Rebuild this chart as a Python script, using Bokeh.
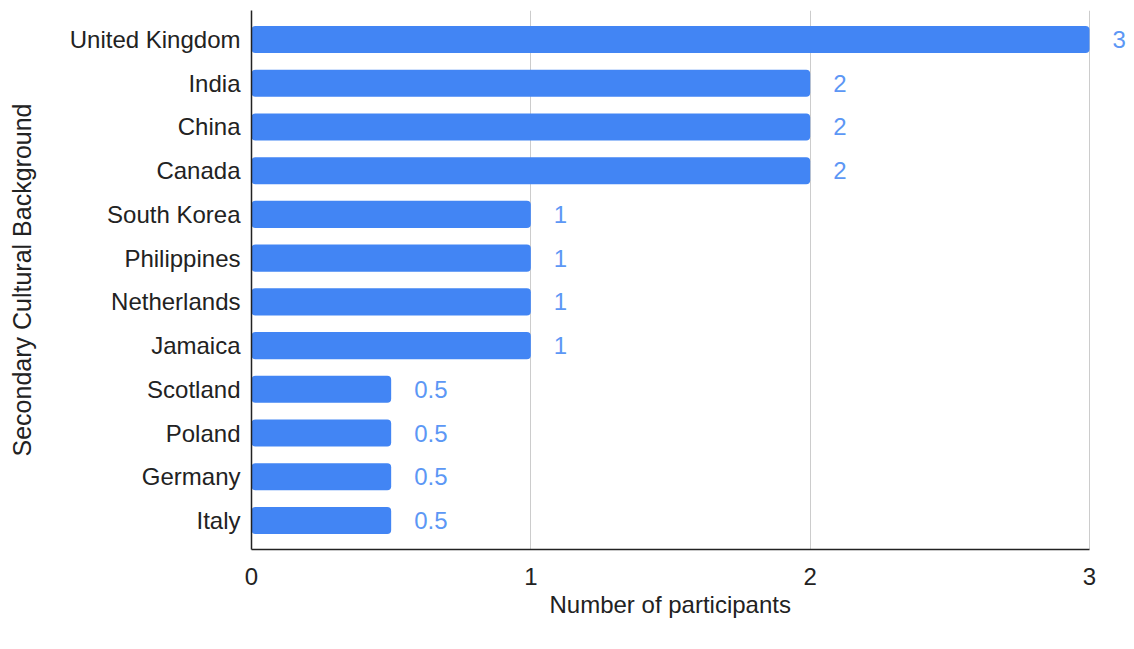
from bokeh.plotting import figure
from bokeh.models import ColumnDataSource, FactorRange, Range1d, FixedTicker, Title, LinearAxis
from bokeh.core.properties import value
from bokeh.embed import file_html
from bokeh.resources import INLINE

countries = ["United Kingdom", "India", "China", "Canada", "South Korea", "Philippines",
             "Netherlands", "Jamaica", "Scotland", "Poland", "Germany", "Italy"]
participants = [3, 2, 2, 2, 1, 1, 1, 1, 0.5, 0.5, 0.5, 0.5]
value_labels = ["3", "2", "2", "2", "1", "1", "1", "1", "0.5", "0.5", "0.5", "0.5"]
x_ticks = [0, 1, 2, 3]

FONT = "Liberation Sans"
FS = "24px"

src = ColumnDataSource(dict(country=countries, n=participants, lbl=value_labels))

# frame spans 251..1134 px; axis data 0..3 maps to 251..1089
x_end = 3 * (1134 - 251) / (1089 - 251)

p = figure(width=1134, height=649, output_backend="svg", toolbar_location=None,
           y_range=FactorRange(factors=list(reversed(countries)), range_padding=0.0274),
           x_range=Range1d(0, x_end),
           min_border_left=251, min_border_right=0, min_border_top=10, min_border_bottom=100)

p.hbar(y="country", right="n", left=0, height=0.62, source=src,
       fill_color="#4285F4", line_color=None, border_radius=4)
p.text(x="n", y="country", text="lbl", source=src, x_offset=23,
       text_align="left", text_baseline="middle", text_color="#5c97f5",
       text_font=value(FONT), text_font_size=FS)

p.outline_line_color = None
p.background_fill_color = "white"
p.border_fill_color = "white"
p.ygrid.grid_line_color = None
p.xgrid.grid_line_color = "#cccccc"
p.xgrid.grid_line_width = 1
p.xgrid.bounds = (0, 3)

xax = p.xaxis[0]
yax = p.yaxis[0]
xax.ticker = FixedTicker(ticks=x_ticks)
xax.bounds = (0, 3)

for ax in (xax, yax):
    ax.axis_line_color = "#222222"
    ax.axis_line_width = 1.5
    ax.major_tick_line_color = None
    ax.minor_tick_line_color = None
    ax.major_label_text_font = FONT
    ax.major_label_text_font_size = FS
    ax.major_label_text_color = "#222222"
    ax.axis_label_text_font = FONT
    ax.axis_label_text_font_size = FS
    ax.axis_label_text_font_style = "normal"
    ax.axis_label_text_color = "#222222"

yax.axis_label_text_font_size = "25px"
yax.axis_label = "Secondary Cultural Background"
xax.major_label_standoff = 12
yax.major_label_standoff = 5
yax.axis_label_standoff = 31

# empty spacer axis to push the x title down
spacer = LinearAxis(ticker=FixedTicker(ticks=[]), axis_line_color=None,
                    major_tick_line_color=None, minor_tick_line_color=None,
                    major_tick_out=31, minor_tick_out=0, major_label_standoff=0)
p.add_layout(spacer, "below")

# x-axis title centred under the 0..3 axis span (not the wider frame)
xtitle = Title(text="Number of participants", align="left", offset=298,
               text_font=FONT, text_font_size=FS, text_font_style="normal",
               text_color="#222222", standoff=2)
p.add_layout(xtitle, "below")

open("out.html", "w").write(file_html(p, INLINE))
